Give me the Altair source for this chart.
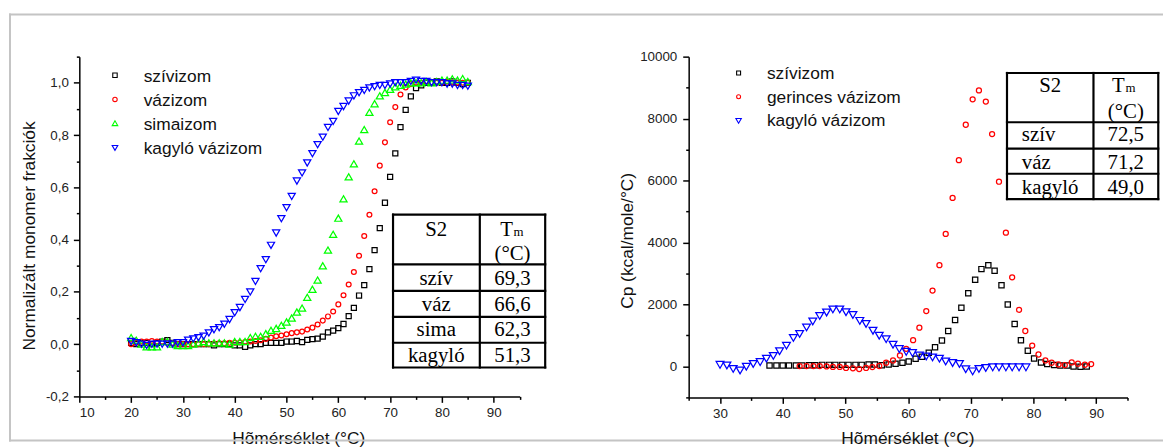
import altair as alt
import pandas as pd

# ---------------- data: left panel (normalised monomer fraction) ----------------
T_LEFT = list(range(20, 86))
SZIV_L = [0.005, 0.0, 0.005, 0.005, 0.0, 0.005, 0.01, 0.015, 0.005, 0.0,
          0.0, 0.0, 0.0, 0.0, 0.0, 0.0, -0.005, 0.0, 0.0, 0.0,
          -0.005, -0.005, -0.01, -0.005, 0.0, 0.0, 0.005, 0.005, 0.005, 0.005,
          0.01, 0.01, 0.012, 0.008, 0.016, 0.019, 0.021, 0.029, 0.045, 0.052,
          0.061, 0.077, 0.107, 0.139, 0.186, 0.226, 0.287, 0.36, 0.444, 0.541,
          0.64, 0.73, 0.83, 0.896, 0.948, 0.98, 0.99, 1.0, 1.0, 1.005,
          1.0, 1.0, 1.005, 1.0, 0.995, 1.0]
VAZ_L = [0.0, 0.005, 0.01, 0.01, 0.012, 0.01, 0.008, 0.005, 0.003, 0.0,
         0.0, 0.0, 0.0, 0.0, 0.0, 0.0, 0.002, 0.003, 0.003, 0.005,
         0.005, 0.006, 0.008, 0.01, 0.012, 0.015, 0.02, 0.025, 0.03, 0.033,
         0.038, 0.042, 0.045, 0.048, 0.056, 0.063, 0.075, 0.09, 0.106, 0.125,
         0.152, 0.187, 0.228, 0.276, 0.338, 0.414, 0.495, 0.585, 0.683, 0.772,
         0.849, 0.907, 0.955, 0.982, 0.995, 1.0, 1.0, 1.005, 1.0, 1.0,
         1.0, 1.005, 1.0, 1.0, 1.0, 1.0]
SIMA_L = [0.025, 0.015, 0.0, -0.01, -0.01, -0.01, 0.01, 0.01, 0.0, -0.005,
          -0.005, -0.005, 0.0, 0.005, 0.01, 0.005, 0.005, 0.005, 0.005, 0.0,
          0.01, 0.01, 0.01, 0.025, 0.03, 0.03, 0.04, 0.053, 0.06, 0.072,
          0.085, 0.1, 0.123, 0.138, 0.179, 0.21, 0.245, 0.3, 0.36, 0.42,
          0.482, 0.556, 0.64, 0.69, 0.777, 0.821, 0.887, 0.92, 0.95, 0.963,
          0.975, 0.985, 0.99, 0.995, 1.0, 1.0, 1.0, 1.005, 1.0, 1.005,
          1.01, 1.01, 1.015, 1.01, 1.016, 1.005]
KAGYLO_L = [0.01, 0.005, 0.0, -0.005, 0.0, 0.0, 0.0, 0.0, 0.0, 0.005,
            0.005, 0.015, 0.02, 0.025, 0.03, 0.043, 0.055, 0.063, 0.076, 0.094,
            0.12, 0.14, 0.171, 0.2, 0.24, 0.289, 0.323, 0.378, 0.425, 0.48,
            0.522, 0.565, 0.624, 0.655, 0.693, 0.729, 0.763, 0.792, 0.829, 0.852,
            0.89, 0.909, 0.93, 0.95, 0.962, 0.971, 0.98, 0.985, 0.99, 0.99,
            0.995, 1.0, 1.0, 1.0, 1.005, 1.01, 1.005, 1.005, 1.0, 1.0,
            1.0, 0.995, 0.995, 0.99, 0.99, 0.987]

# ---------------- data: right panel (Cp) ----------------
T_SZIV_R = [37.9, 39.0, 40.0, 41.0, 42.1, 43.1, 44.2, 45.2, 46.3, 47.4,
            48.4, 49.5, 50.5, 51.6, 52.6, 53.7, 54.7, 55.8, 56.9, 58.0,
            59.1, 60.1, 61.2, 62.2, 63.3, 64.3, 65.4, 66.4, 67.5, 68.5,
            69.6, 70.7, 71.7, 72.8, 73.8, 74.9, 75.9, 77.0, 78.0, 79.1,
            80.1, 81.2, 82.2, 83.3, 84.3, 85.4, 86.4, 87.5, 88.5]
CP_SZIV_R = [30, 30, 30, 30, 30, 30, 40, 40, 50, 50,
             50, 50, 50, 50, 50, 60, 60, 40, 64, 87,
             119, 160, 247, 311, 439, 621, 833, 1144, 1497, 1891,
             2362, 2800, 3141, 3269, 3090, 2619, 2000, 1368, 846, 503,
             256, 128, 77, 45, 32, 32, 0, -10, 0]
T_VAZ_R = [42.7, 43.8, 44.9, 45.9, 47.0, 48.0, 49.1, 50.1, 51.2, 52.2,
           53.3, 54.3, 55.4, 56.5, 57.6, 58.7, 59.7, 60.8, 61.8, 62.9,
           63.9, 65.0, 66.0, 67.1, 68.1, 69.2, 70.3, 71.3, 72.4, 73.4,
           74.5, 75.6, 76.6, 77.7, 78.7, 79.8, 80.8, 81.9, 82.9, 84.0,
           85.0, 86.1, 87.1, 88.2, 89.2]
CP_VAZ_R = [10, 10, 10, 10, 0, -15, -15, -50, -60, -85,
            -50, -20, 13, 119, 192, 353, 567, 846, 1250, 1785,
            2449, 3269, 4276, 5439, 6657, 7801, 8622, 8910, 8548, 7500,
            5962, 4317, 2875, 1827, 1144, 673, 385, 192, 119, 64,
            45, 128, 87, 54, 77]
T_KAG_R = [30.0, 31.1, 32.1, 33.2, 34.2, 35.3, 36.4, 37.4, 38.5, 39.5,
           40.6, 41.7, 42.7, 43.8, 44.8, 45.9, 47.0, 48.0, 49.1, 50.1,
           51.2, 52.3, 53.3, 54.4, 55.4, 56.5, 57.6, 58.6, 59.7, 60.7,
           61.8, 62.9, 63.9, 65.0, 66.0, 67.1, 68.2, 69.2, 70.3, 71.3,
           72.4, 73.5, 74.5, 75.6, 76.6, 77.7, 78.8]
CP_KAG_R = [50, 30, -80, -130, -10, 80, 140, 250, 340, 490,
            670, 920, 1050, 1260, 1450, 1630, 1740, 1840, 1840, 1750,
            1660, 1470, 1370, 1150, 990, 880, 700, 560, 470, 430,
            350, 320, 290, 250, 160, 110, 80, -90, -160, -80,
            -50, -30, -30, -30, -30, -30, -30]

# ---------------- texts ----------------
LEGEND_L = ["szívizom", "vázizom", "simaizom", "kagyló vázizom"]
LEGEND_R = ["szívizom", "gerinces vázizom", "kagyló vázizom"]
TABLE_L_ROWS = ["szív", "váz", "sima", "kagyló"]
TABLE_L_TM = ["69,3", "66,6", "62,3", "51,3"]
TABLE_R_ROWS = ["szív", "váz", "kagyló"]
TABLE_R_TM = ["72,5", "71,2", "49,0"]
X_TITLE = "Hõmérséklet (°C)"
Y_TITLE_L = "Normalizált monomer frakciók"
Y_TITLE_R = "Cp (kcal/mole/°C)"

# ---------------- styles ----------------
BLACK, RED, GREEN, BLUE = "#000000", "#ff0000", "#00ff00", "#0000ff"
SANS = "Liberation Sans"
SERIF = "Liberation Serif"
FRAME = "#c4c4c4"
TFONT = 21
MSTROKE = 1.25

W_L, H_L = 444.5, 343
W_R, H_R = 443, 344


def px(field):
    return alt.X(field, type="quantitative", scale=None, axis=None)


def py(field):
    return alt.Y(field, type="quantitative", scale=None, axis=None)


def series_df(xs, ys, color, shape, size):
    return pd.DataFrame({"T": xs, "v": ys, "c": color, "sh": shape, "sz": size})


def axis_common(**kw):
    base = dict(domainColor="black", domainWidth=1.5, tickColor="black", tickWidth=1.5,
                labelFont=SANS, labelFontSize=13.5, labelColor="#222222",
                titleFont=SANS, titleFontSize=17.5, titleFontWeight="normal",
                titleColor="#111111", grid=False)
    base.update(kw)
    return alt.Axis(**base)


def points_layer(df, xscale, yscale, xaxis, yaxis):
    return alt.Chart(df).mark_point(filled=False, strokeWidth=MSTROKE, opacity=1).encode(
        x=alt.X("T:Q", scale=xscale, axis=xaxis),
        y=alt.Y("v:Q", scale=yscale, axis=yaxis),
        color=alt.Color("c:N", scale=None),
        shape=alt.Shape("sh:N", scale=None),
        size=alt.Size("sz:Q", scale=None),
    )


def rules_layer(rows, color="black", width=2.0):
    df = pd.DataFrame(rows, columns=["x", "x2", "y", "y2"])
    return alt.Chart(df).mark_rule(color=color, strokeWidth=width, strokeCap="square").encode(
        x=px("x"), x2="x2:Q", y=py("y"), y2="y2:Q")


def text_layer(rows, font, size, align="center", color="black"):
    df = pd.DataFrame(rows, columns=["x", "y", "t"])
    return alt.Chart(df).mark_text(font=font, fontSize=size, align=align,
                                   baseline="alphabetic", color=color).encode(
        x=px("x"), y=py("y"), text="t:N")


def marker_layer(rows):
    df = pd.DataFrame(rows, columns=["x", "y", "c", "sh", "sz"])
    return alt.Chart(df).mark_point(filled=False, strokeWidth=1.1, opacity=1).encode(
        x=px("x"), y=py("y"),
        color=alt.Color("c:N", scale=None),
        shape=alt.Shape("sh:N", scale=None),
        size=alt.Size("sz:Q", scale=None))


def table_rules(x0, xd, x1, ys):
    rows = [[x0, x1, y, y] for y in ys]
    rows += [[x, x, ys[0], ys[-1]] for x in (x0, xd, x1)]
    return rules_layer(rows, width=2.2)


# ---------------- left panel ----------------
df_left = pd.concat([
    series_df(T_LEFT, SZIV_L, BLACK, "square", 26),
    series_df(T_LEFT, VAZ_L, RED, "circle", 24),
    series_df(T_LEFT, SIMA_L, GREEN, "triangle-up", 52),
    series_df(T_LEFT, KAGYLO_L, BLUE, "triangle-down", 52),
], ignore_index=True)

xaxis_l = axis_common(
    values=list(range(10, 96, 5)),
    labelExpr="datum.value % 10 === 0 ? datum.label : ''",
    tickSize={"condition": {"test": "datum.value % 10 === 0", "value": 6}, "value": 3},
    labelPadding=3, title=X_TITLE, titleX=221, titleY=48,
    titleAlign="center", titleBaseline="alphabetic")
yaxis_l = axis_common(
    values=[-0.2, -0.1, 0.0, 0.1, 0.2, 0.3, 0.4, 0.5, 0.6, 0.7, 0.8, 0.9, 1.0, 1.1],
    labelExpr="abs(round(datum.value*10)) % 2 === 0 ? (datum.value < -0.001 ? '-' : '') + replace(format(abs(datum.value), '.1f'), '.', ',') : ''",
    tickSize={"condition": {"test": "abs(round(datum.value*10)) % 2 === 0", "value": 6}, "value": 3},
    labelPadding=5, title=Y_TITLE_L, titleX=-45.5, titleY=180.5, titleAngle=270,
    titleAlign="center", titleBaseline="alphabetic")

pts_l = points_layer(df_left,
                     alt.Scale(domain=[10, 95], nice=False, zero=False),
                     alt.Scale(domain=[-0.2, 1.1], nice=False, zero=False),
                     xaxis_l, yaxis_l)

frame = rules_layer([[-70, 1093, -42.5, -42.5],
                     [-70, -70, -42.5, 387.5],
                     [-70, 1093, 387.5, 387.5]], color=FRAME, width=2)

leg_l_marks = marker_layer([[36, 18.8, BLACK, "square", 20],
                            [36, 43.2, RED, "circle", 20],
                            [36, 67.2, GREEN, "triangle-up", 32],
                            [36, 92.2, BLUE, "triangle-down", 32]])
leg_l_text = text_layer([[65, yb, t] for yb, t in zip([25.5, 49.5, 73.8, 97.8], LEGEND_L)],
                        SANS, 17.5, align="left", color="#111111")

tab_l = table_rules(316.7, 404.3, 470.3, [159.5, 209.8, 236.5, 262.8, 288.8, 313.8])
tab_l_text = text_layer(
    [[360.3, 181.5, "S2"], [437.3, 205.5, "(°C)"]]
    + [[360.3, yb, t] for yb, t in zip([230.5, 256.5, 282.2, 308.2], TABLE_L_ROWS)]
    + [[437.3, yb, t] for yb, t in zip([230.5, 256.5, 282.2, 308.2], TABLE_L_TM)],
    SERIF, TFONT)
tab_l_T = text_layer([[437.8, 181.5, "T"]], SERIF, TFONT, align="right")
tab_l_sub = text_layer([[438.3, 181.5, "m"]], SERIF, 13, align="left")

left = alt.layer(pts_l, frame, leg_l_marks, leg_l_text, tab_l, tab_l_text, tab_l_T,
                 tab_l_sub).resolve_scale(x="independent", y="independent").properties(
    width=W_L, height=H_L)

# ---------------- right panel ----------------
df_right = pd.concat([
    series_df(T_SZIV_R, CP_SZIV_R, BLACK, "square", 28),
    series_df(T_VAZ_R, CP_VAZ_R, RED, "circle", 26),
    series_df(T_KAG_R, CP_KAG_R, BLUE, "triangle-down", 62),
], ignore_index=True)

xaxis_r = axis_common(
    values=list(range(25, 96, 5)),
    labelExpr="datum.value % 10 === 0 ? datum.label : ''",
    tickSize={"condition": {"test": "datum.value % 10 === 0", "value": 6}, "value": 3},
    labelPadding=3, title=X_TITLE, titleX=220.8, titleY=47,
    titleAlign="center", titleBaseline="alphabetic")
yaxis_r = axis_common(
    values=list(range(-1000, 10001, 1000)),
    labelExpr="datum.value % 2000 === 0 ? format(datum.value, 'd') : ''",
    tickSize={"condition": {"test": "datum.value % 2000 === 0", "value": 6}, "value": 3},
    labelPadding=6, title=Y_TITLE_R, titleX=-56.6, titleY=185.5, titleAngle=270,
    titleAlign="center", titleBaseline="alphabetic")

pts_r = points_layer(df_right,
                     alt.Scale(domain=[25, 95], nice=False, zero=False),
                     alt.Scale(domain=[-1000, 10000], nice=False, zero=False),
                     xaxis_r, yaxis_r)

leg_r_marks = marker_layer([[50.4, 16.5, BLACK, "square", 16],
                            [50.4, 40.5, RED, "circle", 16],
                            [50.4, 64.8, BLUE, "triangle-down", 30]])
leg_r_text = text_layer([[79, yb, t] for yb, t in zip([22.2, 47.2, 70.5], LEGEND_R)],
                        SANS, 17.5, align="left", color="#111111")

tab_r = table_rules(321.35, 408.65, 474.05, [16.5, 66.2, 92.8, 118.2, 143.8])
tab_r_text = text_layer(
    [[365, 35.5, "S2"], [441.3, 61.5, "(°C)"]]
    + [[441.3, yb, t] for yb, t in zip([85.5, 113.2, 138.2], TABLE_R_TM)],
    SERIF, TFONT)
tab_r_rows = text_layer([[336.3, yb, t] for yb, t in zip([85.5, 113.2, 138.2], TABLE_R_ROWS)],
                        SERIF, TFONT, align="left")
tab_r_T = text_layer([[440.3, 35.5, "T"]], SERIF, TFONT, align="right")
tab_r_sub = text_layer([[441.0, 35.5, "m"]], SERIF, 13, align="left")

right = alt.layer(pts_r, leg_r_marks, leg_r_text, tab_r, tab_r_text, tab_r_rows, tab_r_T,
                  tab_r_sub).resolve_scale(x="independent", y="independent").properties(
    width=W_R, height=H_R)

chart = alt.hconcat(left, right, spacing=170.15, bounds="flush").properties(
    padding={"left": 0, "top": 3, "right": 0, "bottom": 0},
    background="white",
).configure_view(stroke=None)

chart.save("out.html", embed_options={"renderer": "svg", "actions": False})
